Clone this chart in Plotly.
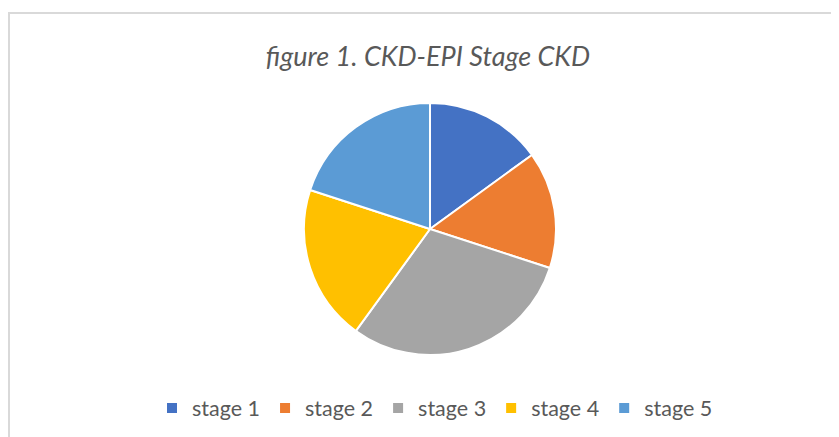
import plotly.graph_objects as go

stages = ["stage 1", "stage 2", "stage 3", "stage 4", "stage 5"]
values = [15, 15, 30, 20, 20]
colors = ["#4472C4", "#ED7D31", "#A5A5A5", "#FFC000", "#5B9BD5"]

# the page body has an 8px margin, so the figure is shifted by 8px
OFF = 8
W, H = 839 - OFF, 437 - OFF
cx, cy, r = 430 - OFF, 229 - OFF, 126

fig = go.Figure(go.Pie(
    labels=stages, values=values, sort=False, direction="clockwise", rotation=0,
    marker=dict(colors=colors, line=dict(color="white", width=2)),
    textinfo="none", hoverinfo="label+value",
    domain=dict(x=[(cx - r) / W, (cx + r) / W], y=[1 - (cy + r) / H, 1 - (cy - r) / H]),
))

fig.update_layout(
    width=W, height=H, margin=dict(l=0, r=0, t=0, b=0),
    paper_bgcolor="white", plot_bgcolor="white",
    title=dict(text="<i>figure 1. CKD-EPI Stage CKD</i>", x=(428 - OFF) / W, xanchor="center",
               y=1 - (57 - OFF) / H, yanchor="middle",
               font=dict(family="Lato", size=27, color="#595959")),
    legend=dict(orientation="h", x=(435 - OFF) / W, xanchor="center", y=1 - (408 - OFF) / H,
                yanchor="middle",
                font=dict(family="Lato", size=21.5, color="#595959"),
                itemwidth=30, traceorder="normal"),
    shapes=[
        dict(type="line", xref="paper", yref="paper", x0=0, x1=1, y0=1 - 5 / H, y1=1 - 5 / H,
             line=dict(color="#D9D9D9", width=2)),
        dict(type="line", xref="paper", yref="paper", x0=1 / W, x1=1 / W, y0=0, y1=1 - 4 / H,
             line=dict(color="#D9D9D9", width=2)),
    ],
)

fig.write_html("out.html")
